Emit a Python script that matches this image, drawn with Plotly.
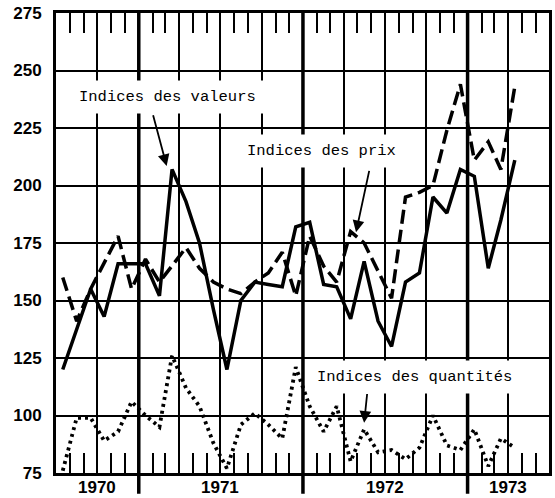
import pandas as pd
import plotly.graph_objects as go

# Monthly observations, July 1970 .. April 1973 (plotted mid-month)
months = pd.date_range("1970-07-01", periods=34, freq="MS") + pd.Timedelta(days=15)

valeurs = [120, 137, 155, 143, 166, 166, 166, 152, 207, 193, 175, 146,
           120, 150, 158, 157, 156, 182, 184, 157, 156, 142, 167, 141,
           130, 158, 162, 195, 188, 207, 204, 164, 185, 211]

prix = [160, 141, 155, 166, 178, 155, 168, 158, 165, 173, 164, 158,
        155, 153, 158, 162, 171, 152, 178, 165, 158, 180, 175, 163,
        151, 195, 197, 200, 224, 244, 211, 219, 207, 243]

quantites = [76, 99, 99, 89, 93, 106, 100, 95, 126, 112, 104, 88,
             77, 96, 101, 96, 90, 121, 104, 93, 104, 80, 94, 84,
             85, 81, 86, 100, 87, 85, 94, 78, 90, 86]

year_labels = ["1970", "1971", "1972", "1973"]
year_label_pos = ["1970-10-01", "1971-07-01", "1972-07-01", "1973-04-01"]
year_bounds = ["1971-01-01", "1972-01-01", "1973-01-01"]
y_ticks = [75, 100, 125, 150, 175, 200, 225, 250, 275]

fig = go.Figure()
fig.add_trace(go.Scatter(x=months, y=valeurs, mode="lines",
                         line=dict(color="black", width=3.5)))
fig.add_trace(go.Scatter(x=months, y=prix, mode="lines",
                         line=dict(color="black", width=3.5, dash="14px,6px")))
fig.add_trace(go.Scatter(x=months, y=quantites, mode="lines",
                         line=dict(color="black", width=3.8, dash="3px,4px")))

shapes = []
for d in year_bounds:
    shapes.append(dict(type="line", xref="x", yref="paper", x0=d, x1=d,
                       y0=-0.045, y1=1, line=dict(color="black", width=3.5),
                       layer="above"))

mono = "Liberation Mono, DejaVu Sans Mono, monospace"
annotations = []
for lab, pos in zip(year_labels, year_label_pos):
    annotations.append(dict(x=pos, y=-0.031, xref="x", yref="paper", text=lab,
                            showarrow=False, yanchor="middle",
                            font=dict(family="Liberation Sans, Arial", size=17,
                                      color="black", weight=700)))

texts = [("Indices des valeurs", "1971-03-05", 238.6),
         ("Indices des prix", "1972-02-11", 215),
         ("Indices des quantités", "1972-09-04", 116.9)]
for t, x, y in texts:
    annotations.append(dict(x=x, y=y, xref="x", yref="y", text=t, showarrow=False,
                            bgcolor="white", borderpad=7,
                            font=dict(family=mono, size=15.5, color="black")))

arrows = [("1971-03-04", 208.5, "1971-02-01", 231.2),
          ("1972-04-28", 179.7, "1972-05-28", 207),
          ("1972-05-16", 96.8, "1972-05-23", 110)]
for hx, hy, tx, ty in arrows:
    annotations.append(dict(x=hx, y=hy, ax=tx, ay=ty, xref="x", yref="y",
                            axref="x", ayref="y", text="", showarrow=True,
                            arrowhead=2, arrowsize=1.3, arrowwidth=1.8,
                            arrowcolor="black"))

fig.update_layout(
    width=555, height=498,
    margin=dict(l=56, r=3, t=13, b=25),
    paper_bgcolor="white", plot_bgcolor="white",
    showlegend=False,
    shapes=shapes, annotations=annotations,
    xaxis=dict(range=["1970-07-01", "1973-07-01"], type="date",
               tick0="1970-07-01", dtick="M3",
               showgrid=True, gridcolor="black", gridwidth=2,
               ticks="inside", ticklen=20, tickwidth=2, tickcolor="black",
               minor=dict(dtick="M1", tick0="1970-07-01", ticks="inside",
                          ticklen=20, tickwidth=2, tickcolor="black",
                          showgrid=False),
               showticklabels=False,
               showline=True, linecolor="black", linewidth=3, mirror="ticks",
               zeroline=False),
    yaxis=dict(range=[75, 275], tickvals=y_ticks,
               showgrid=True, gridcolor="black", gridwidth=2,
               ticks="", ticklabelstandoff=8,
               tickfont=dict(family="Liberation Sans, Arial", size=17,
                             color="black", weight=700),
               showline=True, linecolor="black", linewidth=3, mirror=True,
               zeroline=False),
)

fig.write_html("out.html", config={"displayModeBar": False},
               post_script="document.body.style.margin='0';document.body.style.overflow='hidden';")
